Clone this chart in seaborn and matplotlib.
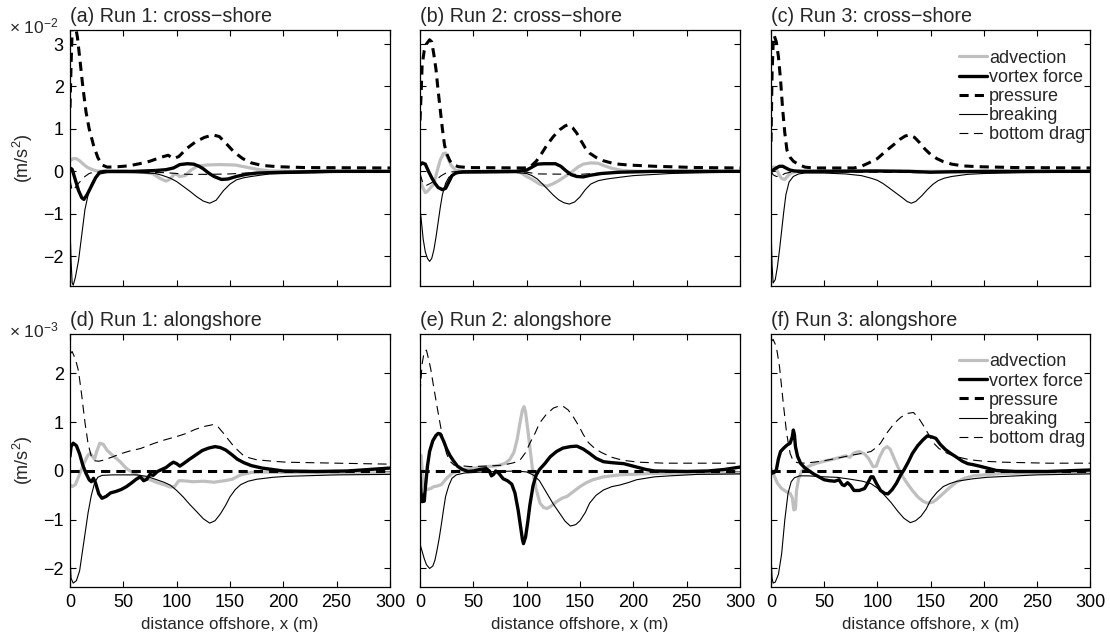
import matplotlib
matplotlib.use("Agg")
import matplotlib.pyplot as plt
from matplotlib.lines import Line2D
import pandas as pd
import seaborn as sns

# ---------------------------------------------------------------------------
# Momentum-balance terms versus distance offshore, (x [m], value) pairs.
# Cross-shore values in units of 1e-2 m/s^2, alongshore in 1e-3 m/s^2.
# ---------------------------------------------------------------------------

# (a) Run 1: cross-shore
adv_a = [(0, 0.25), (3, 0.3), (6, 0.3), (9, 0.25), (12, 0.18), (16, 0.1), (20, 0.05), (25, 0.01),
         (30, 0), (50, 0), (70, -0.02), (78, -0.06), (84, -0.16), (90, -0.23), (94, -0.18),
         (97, -0.08), (100, -0.07), (103, -0.12), (108, -0.1), (113, 0.02), (119, 0.12),
         (128, 0.15), (140, 0.16), (155, 0.15), (165, 0.1), (175, 0.05), (187, 0.01), (210, 0), (300, 0)]
vf_a = [(0, 0.08), (2, 0.05), (5, -0.2), (8, -0.45), (11, -0.62), (13, -0.66), (16, -0.55),
        (20, -0.35), (24, -0.15), (28, -0.02), (32, 0), (60, 0.0), (80, 0.02), (90, 0.04), (97, 0.08),
        (103, 0.16), (110, 0.18), (116, 0.17), (121, 0.12), (125, 0.06), (130, -0.04), (135, -0.12),
        (142, -0.19), (148, -0.18), (156, -0.12), (165, -0.07), (175, -0.04), (200, -0.02), (240, 0), (300, 0)]
pres_a = [(0, 1.5), (1, 2.5), (2, 3.3), (3, 3.45), (5, 3.45), (7, 3.15), (9, 2.7), (12, 2.0), (15, 1.4),
          (18, 1.0), (22, 0.62), (26, 0.33), (30, 0.15), (35, 0.1), (45, 0.11), (55, 0.13), (65, 0.18),
          (75, 0.24), (85, 0.33), (92, 0.38), (97, 0.3), (102, 0.35), (110, 0.55), (118, 0.7), (126, 0.8),
          (134, 0.86), (140, 0.82), (147, 0.64), (154, 0.45), (162, 0.3), (170, 0.2), (180, 0.14),
          (195, 0.11), (220, 0.09), (300, 0.08)]
brk_a = [(0, -1.3), (1, -2.1), (2, -2.62), (3, -2.68), (5, -2.5), (8, -2.1), (11, -1.5), (14, -0.9),
         (17, -0.55), (20, -0.3), (24, -0.12), (28, -0.06), (35, -0.03), (60, -0.03), (80, -0.05),
         (86, -0.09), (94, -0.16), (100, -0.24), (106, -0.35), (113, -0.48), (119, -0.6), (125, -0.7),
         (131, -0.75), (137, -0.68), (144, -0.45), (150, -0.3), (156, -0.2), (163, -0.15), (170, -0.12),
         (187, -0.06), (220, -0.04), (260, -0.02), (300, -0.02)]
bd_a = [(0, -0.2), (2, -0.45), (5, -0.38), (8, -0.28), (11, -0.2), (14, -0.12), (18, -0.05), (22, -0.02),
        (40, -0.02), (90, -0.03), (100, -0.05), (110, -0.07), (130, -0.07), (150, -0.06), (165, -0.04),
        (200, -0.02), (300, -0.01)]

# (b) Run 2: cross-shore
adv_b = [(0, -0.2), (2, -0.35), (5, -0.5), (7, -0.47), (10, -0.38), (13, -0.3), (16, 0.0), (19, 0.27),
         (22, 0.42), (24, 0.43), (26, 0.32), (29, 0.15), (33, 0.03), (40, 0), (90, 0), (95, -0.04),
         (100, -0.12), (106, -0.2), (112, -0.3), (119, -0.35), (124, -0.3), (130, -0.22), (136, -0.12),
         (142, -0.02), (148, 0.1), (153, 0.17), (160, 0.2), (167, 0.19), (173, 0.13), (180, 0.07),
         (190, 0.02), (210, 0), (300, 0)]
vf_b = [(0, 0.15), (2, 0.2), (5, 0.17), (8, 0.0), (11, -0.15), (14, -0.28), (17, -0.38), (21, -0.43),
        (24, -0.4), (27, -0.25), (30, -0.1), (34, -0.03), (40, -0.01), (90, 0), (100, 0.03), (105, 0.1),
        (110, 0.17), (116, 0.18), (127, 0.18), (132, 0.12), (137, 0.01), (142, -0.08), (147, -0.12),
        (153, -0.13), (160, -0.09), (170, -0.05), (187, -0.02), (220, 0), (300, 0)]
pres_b = [(0, 1.2), (1, 1.8), (2, 2.5), (4, 2.85), (6, 3.0), (9, 3.1), (11, 3.05), (13, 2.75), (15, 2.4),
          (17, 1.9), (19, 1.45), (21, 1.0), (23, 0.62), (25, 0.42), (28, 0.25), (31, 0.16), (36, 0.11),
          (45, 0.09), (100, 0.08), (104, 0.12), (109, 0.24), (114, 0.42), (119, 0.62), (125, 0.82),
          (131, 0.98), (136, 1.07), (139, 1.1), (143, 1.03), (147, 0.9), (151, 0.72), (155, 0.55),
          (159, 0.43), (165, 0.33), (172, 0.25), (182, 0.18), (195, 0.15), (220, 0.12), (260, 0.09), (300, 0.08)]
brk_b = [(0, -0.9), (1, -1.1), (3, -1.6), (5, -1.9), (7, -2.05), (9, -2.12), (11, -2.05), (13, -1.85),
         (15, -1.55), (17, -1.2), (19, -0.85), (21, -0.55), (24, -0.28), (27, -0.14), (31, -0.07),
         (40, -0.04), (90, -0.03), (100, -0.05), (105, -0.1), (110, -0.18), (115, -0.3), (120, -0.43),
         (125, -0.56), (130, -0.67), (135, -0.74), (140, -0.77), (145, -0.72), (150, -0.6), (155, -0.43),
         (160, -0.3), (167, -0.22), (175, -0.18), (190, -0.13), (200, -0.1), (235, -0.05), (270, -0.03), (300, -0.02)]
bd_b = [(0, -0.05), (3, -0.3), (6, -0.33), (10, -0.28), (15, -0.2), (20, -0.1), (25, -0.03), (30, -0.01),
        (100, -0.02), (110, -0.06), (150, -0.07), (170, -0.04), (200, -0.02), (300, -0.01)]

# (c) Run 3: cross-shore
adv_c = [(0, 0.05), (2, 0.1), (4, 0.1), (6, 0.0), (8, -0.1), (10, -0.17), (13, -0.19), (16, -0.1),
         (19, -0.04), (23, -0.01), (30, 0), (300, 0)]
vf_c = [(0, 0.0), (2, 0.03), (5, 0.08), (8, 0.12), (11, 0.12), (14, 0.08), (18, 0.03), (22, 0.01), (30, 0),
        (100, 0.01), (130, 0), (150, -0.02), (170, -0.01), (200, 0), (300, 0)]
pres_c = [(0, 0.7), (0.5, 1.5), (1, 2.3), (2, 3.0), (3, 3.2), (5, 3.05), (7, 2.7), (9, 2.15), (11, 1.45),
          (13, 0.9), (15, 0.5), (18, 0.33), (21, 0.24), (26, 0.16), (32, 0.1), (40, 0.08), (78, 0.08),
          (85, 0.12), (92, 0.2), (100, 0.3), (108, 0.48), (115, 0.62), (121, 0.75), (126, 0.83), (130, 0.86),
          (135, 0.8), (140, 0.67), (145, 0.52), (150, 0.4), (156, 0.3), (162, 0.23), (170, 0.17), (180, 0.13),
          (195, 0.11), (230, 0.09), (300, 0.08)]
brk_c = [(0, -1.3), (1, -2.2), (2, -2.63), (4, -2.55), (6, -2.25), (8, -1.85), (10, -1.4), (12, -0.95),
         (14, -0.55), (17, -0.25), (21, -0.12), (26, -0.06), (32, -0.04), (50, -0.04), (70, -0.06),
         (85, -0.1), (94, -0.16), (100, -0.21), (105, -0.28), (110, -0.37), (117, -0.5), (124, -0.63),
         (128, -0.71), (132, -0.75), (136, -0.71), (142, -0.57), (147, -0.43), (152, -0.31), (157, -0.22),
         (163, -0.16), (170, -0.12), (185, -0.07), (200, -0.05), (240, -0.03), (300, -0.02)]
bd_c = [(0, 0.0), (2, -0.08), (5, -0.12), (9, -0.11), (13, -0.05), (18, -0.02), (30, -0.01), (100, -0.02),
        (140, -0.03), (200, -0.01), (300, -0.01)]

# (d) Run 1: alongshore
adv_d = [(0, -0.28), (2, -0.32), (5, -0.28), (8, -0.12), (11, 0.05), (14, 0.2), (17, 0.33), (19, 0.36),
         (21, 0.3), (23, 0.24), (25, 0.4), (28, 0.57), (31, 0.55), (35, 0.42), (40, 0.32), (47, 0.19),
         (53, 0.05), (60, -0.05), (67, -0.12), (75, -0.18), (82, -0.24), (88, -0.28), (94, -0.33),
         (98, -0.32), (102, -0.2), (106, -0.2), (115, -0.22), (125, -0.21), (135, -0.23), (145, -0.2),
         (152, -0.17), (160, -0.08), (170, -0.03), (180, -0.02), (200, -0.03), (250, -0.04), (300, -0.04)]
vf_d = [(0, 0.3), (1, 0.5), (3, 0.57), (6, 0.52), (9, 0.35), (12, 0.12), (15, -0.05), (18, -0.18),
        (20, -0.22), (22, -0.15), (24, -0.25), (27, -0.47), (30, -0.56), (34, -0.52), (38, -0.45),
        (43, -0.42), (48, -0.38), (53, -0.32), (58, -0.24), (62, -0.17), (66, -0.12), (69, -0.2),
        (72, -0.17), (75, -0.07), (78, -0.09), (82, -0.01), (86, 0.03), (90, 0.07), (94, 0.14), (97, 0.18),
        (100, 0.15), (103, 0.1), (107, 0.16), (112, 0.24), (118, 0.33), (124, 0.42), (130, 0.47),
        (136, 0.5), (141, 0.48), (146, 0.43), (152, 0.33), (157, 0.24), (163, 0.17), (170, 0.11),
        (180, 0.06), (190, 0.03), (200, 0.0), (230, -0.01), (260, 0.0), (280, 0.03), (300, 0.06)]
pres_d = [(0, 0.0), (300, 0.0)]
brk_d = [(0, -1.75), (1, -2.2), (3, -2.3), (6, -2.25), (9, -2.05), (11, -1.75), (14, -1.3), (17, -0.85),
         (20, -0.5), (23, -0.25), (26, -0.13), (30, -0.09), (40, -0.08), (62, -0.08), (72, -0.11),
         (80, -0.17), (88, -0.23), (94, -0.29), (100, -0.4), (106, -0.53), (112, -0.68), (119, -0.84),
         (125, -0.98), (131, -1.07), (136, -1.02), (141, -0.88), (146, -0.7), (150, -0.53), (155, -0.38),
         (160, -0.28), (167, -0.21), (175, -0.17), (190, -0.13), (203, -0.11), (250, -0.08), (300, -0.07)]
bd_d = [(0, 2.4), (2, 2.45), (5, 2.3), (8, 2.05), (11, 1.55), (14, 1.0), (17, 0.55), (20, 0.3), (23, 0.21),
        (27, 0.2), (31, 0.22), (40, 0.29), (47, 0.35), (56, 0.41), (66, 0.46), (78, 0.56), (86, 0.62),
        (94, 0.67), (102, 0.72), (109, 0.77), (117, 0.85), (125, 0.91), (134, 0.95), (139, 0.9),
        (144, 0.77), (149, 0.63), (153, 0.52), (158, 0.41), (162, 0.33), (168, 0.27), (175, 0.23),
        (190, 0.2), (203, 0.18), (250, 0.16), (300, 0.14)]

# (e) Run 2: alongshore
adv_e = [(0, 0.25), (1, 0.32), (2, 0.05), (3, -0.2), (5, -0.35), (7, -0.38), (10, -0.36), (13, -0.32),
         (16, -0.31), (20, -0.28), (25, -0.15), (30, -0.05), (34, -0.01), (40, 0.03), (47, 0.05),
         (55, 0.07), (62, 0.09), (70, 0.1), (75, 0.12), (80, 0.16), (84, 0.23), (88, 0.38), (91, 0.64),
         (94, 1.02), (96, 1.25), (97.5, 1.32), (99, 1.2), (101.5, 0.77), (104, 0.3), (106, -0.05),
         (109, -0.38), (112.5, -0.66), (116, -0.75), (119, -0.77), (123, -0.72), (128, -0.63),
         (133, -0.56), (138, -0.52), (144, -0.42), (150, -0.32), (156, -0.24), (162, -0.18),
         (172, -0.12), (187, -0.08), (219, -0.05), (300, -0.04)]
vf_e = [(0, 0.0), (1, -0.45), (2, -0.63), (3, -0.5), (4, -0.62), (5, -0.35), (7, 0.1), (9, 0.4),
        (12, 0.62), (15, 0.73), (17, 0.77), (19, 0.76), (22, 0.62), (25, 0.45), (28, 0.32), (31, 0.22),
        (35, 0.1), (40, 0.03), (45, -0.01), (50, 0.0), (56, 0.03), (62, 0.05), (65, 0.0), (67, -0.1),
        (69, -0.07), (71, 0.0), (74, -0.05), (78, -0.16), (82, -0.2), (86, -0.27), (89, -0.45),
        (92, -0.8), (94, -1.1), (96, -1.4), (97, -1.49), (99, -1.35), (101, -1.05), (103, -0.7),
        (106, -0.3), (109, -0.08), (112, 0.03), (117, 0.15), (122, 0.29), (128, 0.4), (134, 0.47),
        (141, 0.5), (147, 0.51), (153, 0.45), (159, 0.36), (165, 0.26), (172, 0.19), (180, 0.17),
        (191, 0.15), (198, 0.11), (205, 0.07), (212, 0.03), (220, 0.0), (250, -0.01), (270, 0.0),
        (285, 0.03), (300, 0.08)]
pres_e = [(0, 0.0), (300, 0.0)]
brk_e = [(0, -1.5), (2, -1.65), (4, -1.8), (6, -1.92), (9, -2.0), (12, -1.95), (14, -1.83), (16, -1.62),
         (18, -1.38), (20, -1.1), (22, -0.8), (24, -0.52), (27, -0.3), (30, -0.15), (34, -0.08),
         (42, -0.04), (60, -0.02), (90, 0.0), (100, -0.02), (106, -0.08), (112, -0.2), (119, -0.46),
         (125, -0.68), (131, -0.87), (136, -1.03), (141, -1.13), (146, -1.1), (150, -1.02), (155, -0.85),
         (159, -0.66), (165, -0.5), (172, -0.39), (180, -0.32), (187, -0.29), (195, -0.24), (203, -0.18),
         (220, -0.12), (234, -0.1), (260, -0.07), (300, -0.06)]
bd_e = [(0, 1.6), (2, 2.2), (4, 2.45), (6, 2.48), (8, 2.3), (10, 2.1), (13, 1.7), (16, 1.32), (19, 0.95),
        (22, 0.6), (25, 0.35), (28, 0.2), (32, 0.12), (47, 0.09), (62, 0.1), (78, 0.12), (88, 0.17),
        (94, 0.23), (99, 0.38), (103, 0.57), (108, 0.78), (112, 0.98), (118, 1.15), (125, 1.29),
        (130, 1.33), (134, 1.33), (139, 1.25), (144, 1.1), (149, 0.92), (153, 0.75), (158, 0.58),
        (164, 0.46), (170, 0.38), (180, 0.28), (190, 0.22), (205, 0.18), (230, 0.16), (300, 0.16)]

# (f) Run 3: alongshore
adv_f = [(0, 0.05), (3, -0.1), (6, -0.25), (10, -0.36), (14, -0.42), (18, -0.46), (20, -0.55),
         (21.5, -0.8), (23, -0.78), (24, -0.4), (26, -0.15), (29, 0.0), (33, 0.07), (38, 0.12), (43, 0.16),
         (50, 0.2), (58, 0.24), (65, 0.28), (70, 0.31), (74, 0.28), (78, 0.37), (83, 0.4), (88, 0.35),
         (92, 0.25), (96, 0.09), (99, 0.1), (102, 0.28), (106, 0.45), (109, 0.5), (112, 0.45), (116, 0.25),
         (120, 0.05), (124, -0.12), (128, -0.25), (133, -0.4), (138, -0.53), (143, -0.62), (147, -0.66),
         (152, -0.64), (156, -0.58), (162, -0.46), (168, -0.34), (175, -0.22), (182, -0.15), (190, -0.1),
         (205, -0.07), (221, -0.05), (260, -0.04), (300, -0.03)]
vf_f = [(0, -0.05), (3, -0.03), (5, 0.02), (7, 0.25), (9, 0.4), (12, 0.47), (15, 0.53), (18, 0.57),
        (20, 0.7), (21, 0.84), (22, 0.75), (23, 0.5), (25, 0.3), (28, 0.15), (32, 0.06), (36, 0.0),
        (40, -0.06), (45, -0.12), (50, -0.18), (55, -0.2), (60, -0.21), (64, -0.18), (67, -0.28),
        (69, -0.3), (72, -0.24), (75, -0.3), (78, -0.4), (83, -0.4), (88, -0.36), (91, -0.25),
        (94, -0.12), (96, -0.12), (99, -0.25), (103, -0.4), (107, -0.46), (110, -0.47), (114, -0.38),
        (118, -0.25), (122, -0.08), (125, 0.02), (129, 0.18), (133, 0.36), (138, 0.52), (143, 0.64),
        (147, 0.72), (151, 0.7), (155, 0.67), (159, 0.55), (164, 0.44), (169, 0.36), (174, 0.29),
        (180, 0.2), (185, 0.15), (190, 0.13), (196, 0.1), (205, 0.05), (212, 0.01), (230, -0.01),
        (260, -0.01), (300, 0.02)]
pres_f = [(0, 0.0), (300, 0.0)]
brk_f = [(0, -1.7), (1, -2.2), (2, -2.3), (4, -2.28), (7, -2.12), (10, -1.7), (13, -1.0), (16, -0.46),
         (19, -0.22), (22, -0.14), (27, -0.1), (35, -0.1), (50, -0.12), (62, -0.13), (75, -0.17),
         (86, -0.21), (94, -0.26), (100, -0.35), (106, -0.48), (113, -0.65), (119, -0.82), (125, -0.97),
         (131, -1.06), (136, -1.02), (141, -0.93), (146, -0.78), (150, -0.6), (156, -0.44), (162, -0.32),
         (168, -0.26), (175, -0.21), (190, -0.16), (203, -0.13), (250, -0.08), (300, -0.06)]
bd_f = [(0, 2.65), (2, 2.7), (5, 2.55), (8, 2.14), (11.5, 1.4), (14.7, 0.77), (18, 0.36), (21, 0.2),
        (25, 0.17), (32, 0.16), (40, 0.18), (50, 0.21), (62, 0.26), (75, 0.32), (88, 0.37), (94, 0.4),
        (99, 0.48), (103, 0.57), (109, 0.78), (116, 0.98), (122, 1.1), (128, 1.18), (134, 1.2),
        (139, 1.08), (144, 0.91), (149, 0.72), (153, 0.57), (158, 0.46), (166, 0.36), (175, 0.29),
        (187, 0.23), (200, 0.2), (219, 0.18), (260, 0.16), (300, 0.16)]

terms = ["advection", "vortex force", "pressure", "breaking", "bottom drag"]
titles = ["(a) Run 1: cross\u2212shore", "(b) Run 2: cross\u2212shore", "(c) Run 3: cross\u2212shore",
          "(d) Run 1: alongshore", "(e) Run 2: alongshore", "(f) Run 3: alongshore"]
panel_series = [
    [adv_a, vf_a, pres_a, brk_a, bd_a],
    [adv_b, vf_b, pres_b, brk_b, bd_b],
    [adv_c, vf_c, pres_c, brk_c, bd_c],
    [adv_d, vf_d, pres_d, brk_d, bd_d],
    [adv_e, vf_e, pres_e, brk_e, bd_e],
    [adv_f, vf_f, pres_f, brk_f, bd_f],
]
x_ticks = [0, 50, 100, 150, 200, 250, 300]
y_ticks_cross = [-2, -1, 0, 1, 2, 3]
y_ticks_along = [-2, -1, 0, 1, 2]
scale_labels = [r"$\times$ 10$^{-2}$", r"$\times$ 10$^{-3}$"]

# ---------------------------------------------------------------------------
sns.set_theme(style="ticks")
plt.rcParams["font.family"] = ["Liberation Sans", "DejaVu Sans"]
plt.rcParams["mathtext.fontset"] = "custom"
plt.rcParams["mathtext.rm"] = "Liberation Sans"
plt.rcParams["mathtext.it"] = "Liberation Sans:italic"
plt.rcParams["mathtext.default"] = "regular"
plt.rcParams["axes.linewidth"] = 0.9
plt.rcParams["axes.edgecolor"] = "black"

line_styles = {
    "advection": dict(color="#bfbfbf", linewidth=2.3, linestyle="-"),
    "vortex force": dict(color="black", linewidth=2.4, linestyle="-"),
    "pressure": dict(color="black", linewidth=2.2, linestyle=(0, (3, 2))),
    "breaking": dict(color="black", linewidth=0.8, linestyle="-"),
    "bottom drag": dict(color="black", linewidth=0.8, linestyle=(0, (8, 5))),
}

W, H = 1110, 642
fig = plt.figure(figsize=(W / 100, H / 100), dpi=100)
col_px = [(70, 390), (420, 740), (771, 1090)]
row_px = [(30, 286), (334, 587)]

for i, (title, series) in enumerate(zip(titles, panel_series)):
    r, c = divmod(i, 3)
    x0, x1 = col_px[c]
    y0, y1 = row_px[r]
    ax = fig.add_axes([x0 / W, 1 - y1 / H, (x1 - x0) / W, (y1 - y0) / H])

    for term, pts in zip(terms, series):
        df = pd.DataFrame(pts, columns=["x", "value"])
        sns.lineplot(data=df, x="x", y="value", ax=ax, estimator=None, sort=False,
                     legend=False, **line_styles[term])

    ax.set_xlim(0, 300)
    if r == 0:
        ax.set_ylim(-2.7, 3.33)
        ax.set_yticks(y_ticks_cross)
    else:
        ax.set_ylim(-2.38, 2.81)
        ax.set_yticks(y_ticks_along)
    ax.set_xticks(x_ticks)
    ax.tick_params(direction="in", top=True, right=True, length=4.5, width=0.8,
                   labelsize=13, colors="black")
    ax.tick_params(axis="x", pad=5)
    ax.tick_params(axis="y", pad=4.5)
    ax.set_title(title, loc="left", fontsize=14.2, pad=5.5)

    if r == 1:
        ax.set_xlabel("distance offshore, x (m)", fontsize=12.2, labelpad=4)
    else:
        ax.set_xlabel("")
        ax.tick_params(labelbottom=False)
    if c == 0:
        ax.set_ylabel("(m/s$^2$)", fontsize=13)
        ax.yaxis.set_label_coords(-0.11, 0.5)
        ax.text(-0.19, 0.986 if r == 0 else 0.988, scale_labels[r], transform=ax.transAxes,
                ha="left", va="baseline", fontsize=12.5)
    else:
        ax.set_ylabel("")
        ax.tick_params(labelleft=False)

    if c == 2:
        handles = [Line2D([], [], **line_styles[t]) for t in terms]
        ax.legend(handles, terms, loc="upper right", bbox_to_anchor=(0.985, 0.923),
                  frameon=False, fontsize=13, handlelength=1.55, handletextpad=0.1,
                  labelspacing=0.12, borderpad=0, borderaxespad=0)

fig.savefig("out.png", dpi=100, facecolor="white")
